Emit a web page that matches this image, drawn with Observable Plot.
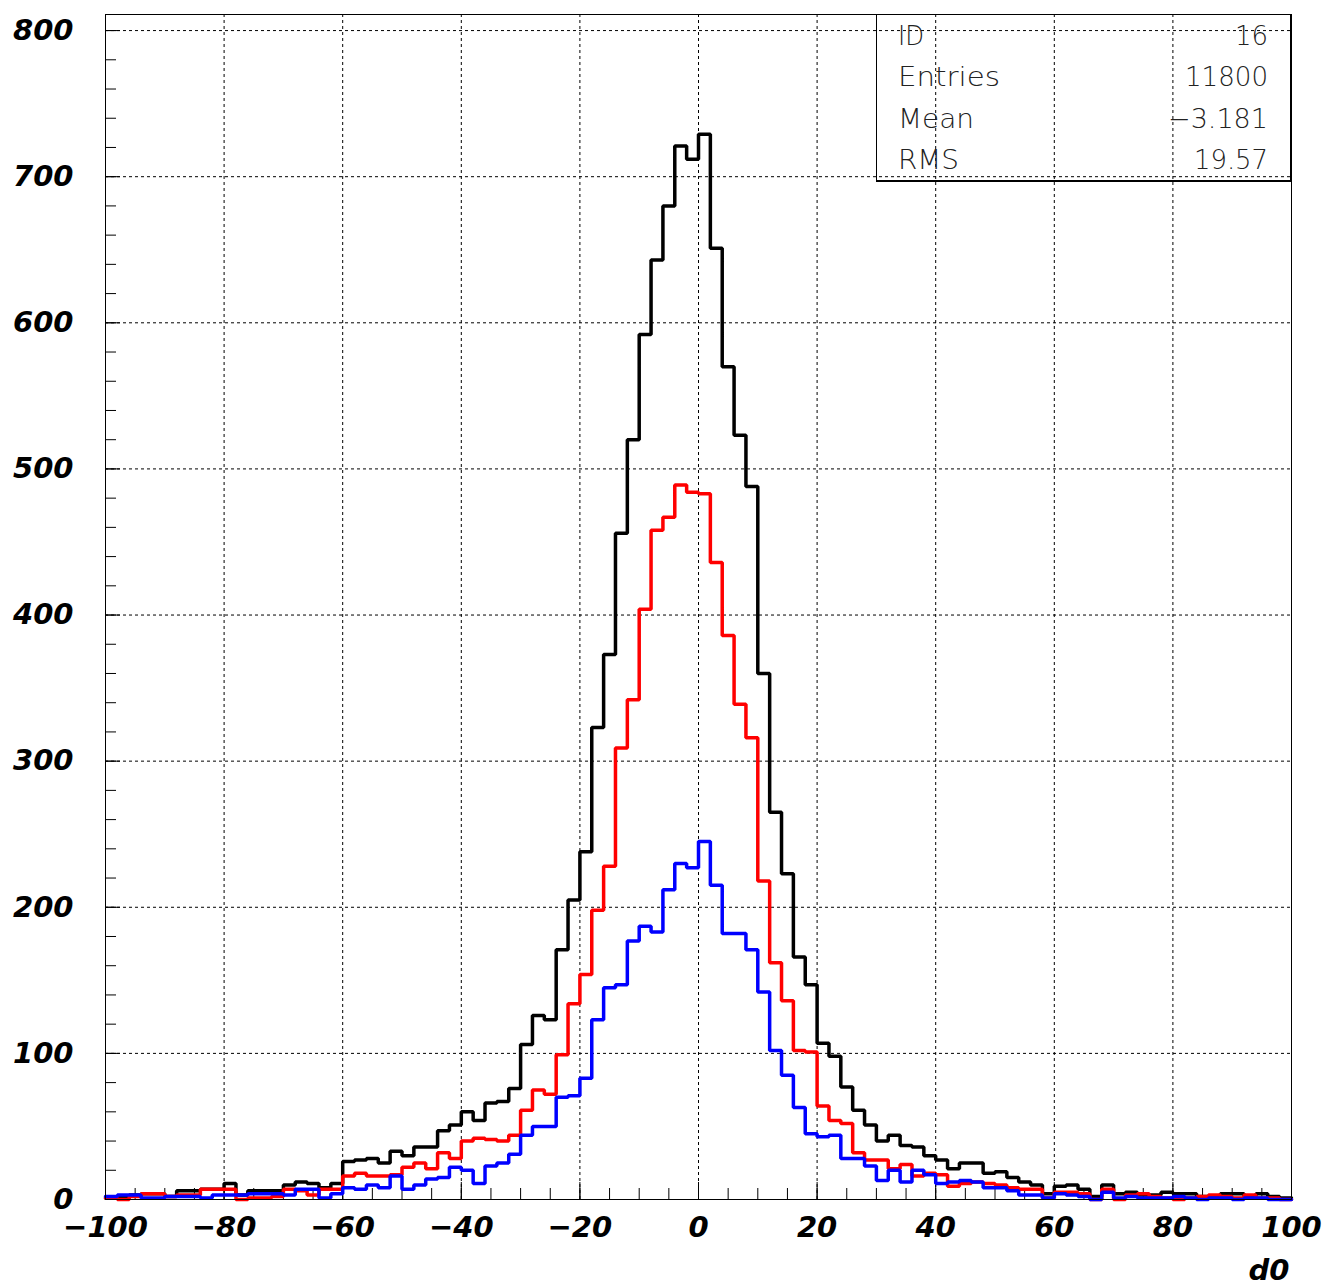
<!DOCTYPE html>
<html><head><meta charset="utf-8">
<script src="https://cdn.jsdelivr.net/npm/d3@7"></script>
<script src="https://cdn.jsdelivr.net/npm/@observablehq/plot@0.6"></script>
<style>body{margin:0;background:#fff}#chart svg{display:block}</style>
</head><body><div id="chart"></div>
<script>
// histogram bins: lower edges of 2-unit bins from -100 to 100
const binLowEdges = d3.range(-100, 100, 2);
const blackCounts = [1,2,3,4,4,2,6,6,7,7, 11,3,6,6,6,10,12,11,8,11,
  26,27,28,25,33,30,36,36,47,51, 60,54,66,67,76,106,126,123,171,205,
  238,323,373,456,520,592,643,680,721,712, 729,651,570,523,488,360,265,223,166,147,
  107,98,77,61,51,40,44,37,36,30, 27,21,25,25,18,19,15,12,10,4,
  9,10,7,2,10,4,5,3,3,5, 4,4,2,2,4,4,2,4,2,1];
const redCounts = [1,0,2,4,4,2,3,3,7,7, 7,0,1,1,2,7,6,3,7,7,
  16,18,16,16,17,22,25,21,32,28, 40,42,41,40,44,61,75,72,99,134,
  154,198,228,309,342,404,458,467,489,484, 483,436,386,339,316,218,162,136,102,101,
  64,54,52,32,27,27,21,24,16,18, 17,9,11,12,11,10,8,7,7,1,
  5,5,4,0,7,0,3,4,2,1, 0,1,2,3,2,1,3,1,1,0];
const blueCounts = [2,3,3,1,1,2,2,2,1,3, 3,3,4,4,4,3,7,7,1,4,
  8,7,10,8,16,7,10,14,15,22, 20,11,23,25,31,44,50,50,70,71,
  83,123,145,147,177,187,183,212,230,227, 245,215,182,182,171,142,102,85,63,45,
  43,44,28,28,23,13,20,12,20,17, 11,12,13,12,8,8,6,3,3,1,
  4,3,2,0,5,1,2,1,1,1, 2,1,0,1,1,0,1,1,0,0];
const xTickLabels = d3.range(-100, 101, 20);
const xMinorTicks = d3.range(-95, 100, 5);
const yTickLabels = d3.range(0, 801, 100);
const yMinorTicks = d3.range(0, 801, 20);
const xGrid = d3.range(-80, 100, 20);
const yGrid = d3.range(100, 801, 100);
const statsLabels = ["ID", "Entries", "Mean", "RMS"];
const statsValues = ["16", "11800", "\u22123.181", "19.57"];
const axisTitle = "d0";

function steps(counts) {
  const pts = counts.map((v, i) => ({x: binLowEdges[i], y: v}));
  pts.push({x: 100, y: counts[counts.length - 1]});
  return pts;
}

const W = 1327, H = 1285;
const mL = 105, mR = 36, mT = 14, mB = 86;
const frameW = W - mL - mR, frameH = H - mT - mB;

function statsBox(index, scales, values, dims) {
  const right = dims.width - dims.marginRight;
  const top = dims.marginTop;
  const w = 415, h = 166;
  const g = d3.create("svg:g");
  g.append("rect").attr("x", right - w + 0.5).attr("y", top + 0.5)
    .attr("width", w - 1).attr("height", h).attr("fill", "none").attr("stroke", "#000").attr("stroke-width", 1);
  g.append("line").attr("x1", right - w).attr("x2", right).attr("y1", top + h + 1.5).attr("y2", top + h + 1.5)
    .attr("stroke", "#000").attr("stroke-width", 1);
  const labW = [26, 102, 76, 61];
  const valW = [33, 83, 100, 74];
  statsLabels.forEach((lab, i) => {
    const cy = top + h * (i + 0.5) / 4 + 1;
    g.append("text").attr("x", right - w + 22).attr("y", cy)
      .attr("dominant-baseline", "central").attr("text-anchor", "start")
      .attr("font-family", "DejaVu Sans").attr("font-weight", 200).attr("font-size", 26)
      .attr("fill", "#222").attr("textLength", labW[i]).attr("lengthAdjust", "spacingAndGlyphs")
      .text(lab);
    g.append("text").attr("x", right - 23).attr("y", cy)
      .attr("dominant-baseline", "central").attr("text-anchor", "end")
      .attr("font-family", "DejaVu Sans").attr("font-weight", 200).attr("font-size", 26)
      .attr("fill", "#222").attr("textLength", valW[i]).attr("lengthAdjust", "spacingAndGlyphs")
      .text(statsValues[i]);
  });
  return g.node();
}

const labelFont = {fontFamily: "DejaVu Sans", fontSize: 29, fontWeight: "bold", fontStyle: "italic"};

const chart = Plot.plot({
  width: W, height: H,
  marginLeft: mL, marginRight: mR, marginTop: mT, marginBottom: mB,
  style: {background: "#fff", color: "#000"},
  x: {domain: [-100, 100]},
  y: {domain: [0, 811]},
  marks: [
    Plot.ruleX(xGrid, {x: d => d, stroke: "#000", strokeWidth: 1, strokeDasharray: "3,3"}),
    Plot.ruleY(yGrid, {y: d => d, stroke: "#000", strokeWidth: 1, strokeDasharray: "3,3"}),
    Plot.tickY(yMinorTicks, {y: d => d, stroke: "#000", insetRight: frameW - 11}),
    Plot.tickY(yTickLabels, {y: d => d, stroke: "#000", insetRight: frameW - 15}),
    Plot.tickX(xMinorTicks, {x: d => d, stroke: "#000", insetTop: frameH - 11}),
    Plot.tickX(xTickLabels, {x: d => d, stroke: "#000", insetTop: frameH - 17}),
    Plot.line(steps(blackCounts), {x: "x", y: "y", curve: "step-after", stroke: "#000", strokeWidth: 3.5, strokeLinejoin: "miter"}),
    Plot.line(steps(redCounts), {x: "x", y: "y", curve: "step-after", stroke: "#ff0000", strokeWidth: 3.5, strokeLinejoin: "miter"}),
    Plot.line(steps(blueCounts), {x: "x", y: "y", curve: "step-after", stroke: "#0000ff", strokeWidth: 3.5, strokeLinejoin: "miter"}),
    Plot.frame({stroke: "#000", strokeWidth: 1}),
    Plot.axisY(yTickLabels, {anchor: "left", tickSize: 0, tickPadding: 32, label: null, ...labelFont}),
    Plot.axisX(xTickLabels, {anchor: "bottom", tickSize: 0, tickPadding: 17, label: null, ...labelFont}),
    Plot.text([axisTitle], {text: d => d, frameAnchor: "bottom-right", textAnchor: "end", lineAnchor: "bottom", dx: -2, dy: 80, ...labelFont}),
    statsBox
  ]
});
document.getElementById("chart").appendChild(chart);
</script>
</body></html>
